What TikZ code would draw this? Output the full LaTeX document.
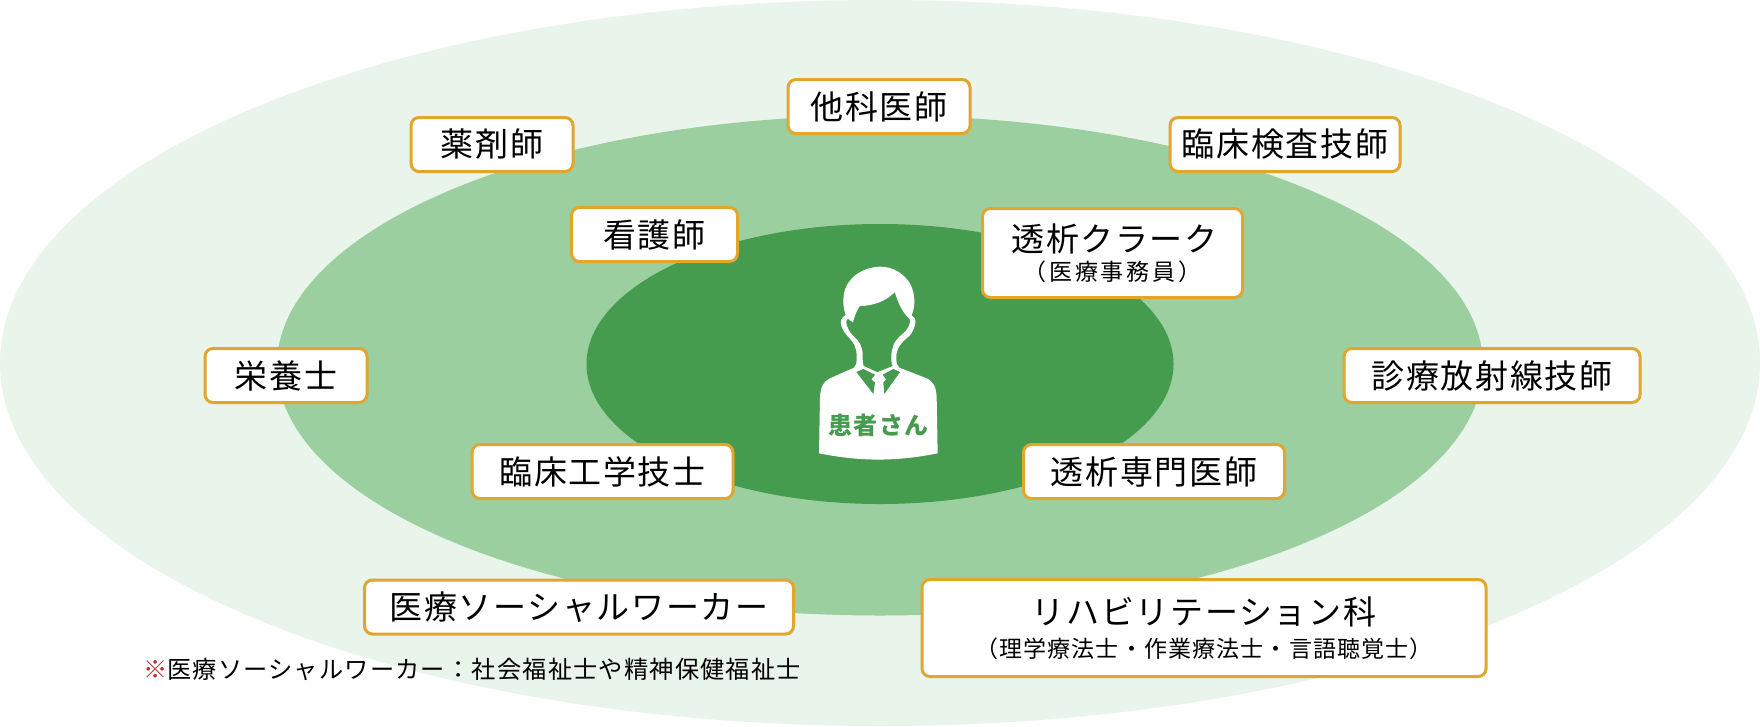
\documentclass[tikz,border=0pt]{standalone}
\usepackage{fontspec}
\setmainfont[LetterSpace=5]{Noto Sans CJK JP}
\newfontfamily\widejp[LetterSpace=12]{Noto Sans CJK JP}
\definecolor{outerg}{HTML}{E9F4EB}
\definecolor{midg}{HTML}{9BCF9F}
\definecolor{innerg}{HTML}{459B4E}
\definecolor{goldb}{HTML}{E0A62E}
\definecolor{notered}{HTML}{C8282D}
\newcommand{\lab}[1]{{\fontsize{33}{38}\selectfont #1}}
\newcommand{\sublab}[1]{{\fontsize{23}{28}\selectfont #1}}
\tikzset{
  rolebox/.style={draw=goldb,fill=white,line width=3pt,rounded corners=8pt,inner sep=0pt,align=center,text=black},
}
\begin{document}
\begin{tikzpicture}[x=1pt,y=-1pt]
\useasboundingbox (0,0) rectangle (1760,726);
\fill[outerg] (880,363) ellipse [x radius=880,y radius=363];
\fill[midg] (880,365.5) ellipse [x radius=603,y radius=250];
\fill[innerg] (880,364) ellipse [x radius=293.5,y radius=140];
% person
\begin{scope}[shift={(780,240)},x=0.3333pt,y=-0.3333pt]
\fill[white] (117,640) -- (120,470) .. controls (122,440) and (130,425) .. (150,415)
  -- (222,383) .. controls (229,378) and (230,370) .. (230,350)
  .. controls (230,322) and (222,308) .. (202,288)
  .. controls (187,272) and (178,250) .. (184,238) .. controls (186,232) and (192,228) .. (197,226)
  .. controls (190,205) and (188,185) .. (192,160)
  .. controls (200,115) and (245,82) .. (300,80)
  .. controls (340,80) and (370,100) .. (390,130)
  .. controls (405,160) and (408,195) .. (395,226)
  .. controls (402,230) and (408,238) .. (406,250)
  .. controls (403,265) and (397,278) .. (388,288)
  .. controls (363,308) and (349,325) .. (349,350)
  .. controls (349,370) and (350,378) .. (358,383)
  -- (440,415) .. controls (460,425) and (468,440) .. (470,470)
  -- (473,640) .. controls (350,665) and (240,665) .. (117,640) -- cycle;
\fill[innerg,draw=white,line width=2pt] (238,195) .. controls (280,195) and (320,180) .. (346,150)
  .. controls (355,185) and (370,215) .. (388,232)
  .. controls (395,238) and (395,250) .. (390,258)
  .. controls (385,270) and (375,280) .. (365,288)
  .. controls (345,305) and (337,325) .. (337,350)
  .. controls (337,368) and (338,375) .. (342,380)
  -- (292,400) -- (248,380) .. controls (245,370) and (245,360) .. (245,345)
  .. controls (245,320) and (235,305) .. (218,290)
  .. controls (205,278) and (198,262) .. (196,250)
  .. controls (195,240) and (198,235) .. (203,232)
  -- (217,242) .. controls (222,225) and (228,208) .. (238,195) -- cycle;
\fill[innerg] (229,396) -- (250,387) -- (285,404) -- (274,418) -- (285,428) -- (280,462) -- cycle;
\fill[innerg] (360,396) -- (340,387) -- (308,404) -- (318,418) -- (310,428) -- (313,462) -- cycle;
\end{scope}
\node[text=innerg,inner sep=0pt] (patient) at (878.5,425) {\bfseries\fontsize{24}{28}\selectfont 患者さん};
% boxes
\node[rolebox,minimum width=182pt,minimum height=54pt] (tashi) at (879,106.5) {\lab{他科医師}};
\node[rolebox,minimum width=162pt,minimum height=54pt] (yaku) at (492,144.5) {\lab{薬剤師}};
\node[rolebox,minimum width=230pt,minimum height=54pt] (rinken) at (1285,144.5) {\lab{臨床検査技師}};
\node[rolebox,minimum width=166pt,minimum height=54pt] (kango) at (654.5,234.5) {\lab{看護師}};
\node[rolebox,minimum width=260pt,minimum height=89pt] (clerk) at (1112.5,253) {\hspace*{4pt}\lab{透析クラーク}\\[6pt]{\widejp\sublab{（医療事務員）}}};
\node[rolebox,minimum width=162pt,minimum height=54pt] (eiyo) at (286,375.5) {\lab{栄養士}};
\node[rolebox,minimum width=296pt,minimum height=54pt] (hoshasen) at (1492,375.5) {\lab{診療放射線技師}};
\node[rolebox,minimum width=261pt,minimum height=54pt] (rinko) at (602.5,471.5) {\lab{臨床工学技士}};
\node[rolebox,minimum width=261pt,minimum height=54pt] (senmon) at (1154,471.5) {\lab{透析専門医師}};
\node[rolebox,minimum width=429pt,minimum height=54pt] (msw) at (579,607) {\lab{医療ソーシャルワーカー}};
\node[rolebox,minimum width=564pt,minimum height=97pt] (reha) at (1204,628) {\lab{リハビリテーション科}\\[10pt]\sublab{（理学療法士・作業療法士・言語聴覚士）}};
\node[anchor=west,inner sep=0pt,text=black] (note) at (143,669) {\fontsize{24.2}{28}\selectfont\textcolor{notered}{※}医療ソーシャルワーカー：社会福祉士や精神保健福祉士};
\end{tikzpicture}
\end{document}
